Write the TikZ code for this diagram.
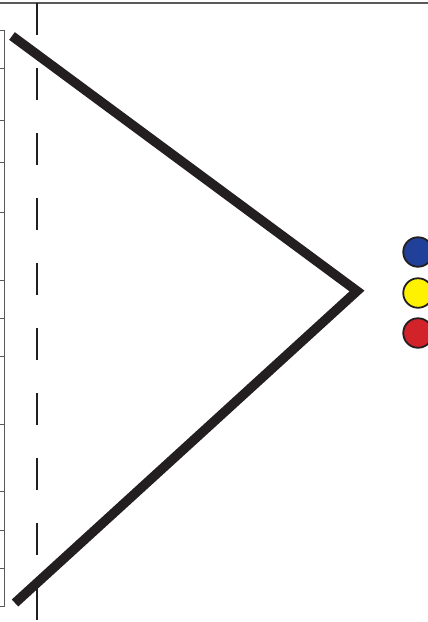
\documentclass[tikz,border=0pt]{standalone}
\usepackage{tikz}
\usetikzlibrary{calc}
\definecolor{inkdark}{HTML}{231F20}
\definecolor{dotblue}{HTML}{21409A}
\definecolor{dotyellow}{HTML}{FFF200}
\definecolor{dotred}{HTML}{D2232A}
\tikzset{
  frame line/.style = {line width=1.4pt, black!65},
  ruler tick/.style = {line width=1pt, black!65},
  axis dash/.style  = {line width=2pt, inkdark, dash pattern=on 32pt off 33pt},
  vee line/.style   = {line width=9.5pt, inkdark},
  dot/.style        = {circle, draw=inkdark, line width=1.8pt, inner sep=0pt, minimum size=29.5pt},
}
\begin{document}
\begin{tikzpicture}[x=1pt,y=-1pt]
  \useasboundingbox (0,0) rectangle (428,622);

  % frame on top and the ruler on the left
  \draw[frame line] (0,3) -- (428,3);
  \draw[ruler tick] (4,30) -- (4,607);
  \foreach \yy in {30,68,120,162,212,280,318,356,424,491,530,568,606}
    \draw[ruler tick] (0,\yy) -- (4,\yy);

  % dashed axis
  \draw[axis dash] (37,3) -- (37,622);

  % the vee
  \coordinate (top)  at (12,36);
  \coordinate (tip)  at (357,291);
  \coordinate (foot) at (15,603);
  \draw[vee line, line join=miter] (top) -- (tip) -- (foot);

  % three dots
  \node[dot, fill=dotblue]   (blue)   at (418,252) {};
  \node[dot, fill=dotyellow] (yellow) at (418,293) {};
  \node[dot, fill=dotred]    (red)    at (418,333) {};
\end{tikzpicture}
\end{document}
